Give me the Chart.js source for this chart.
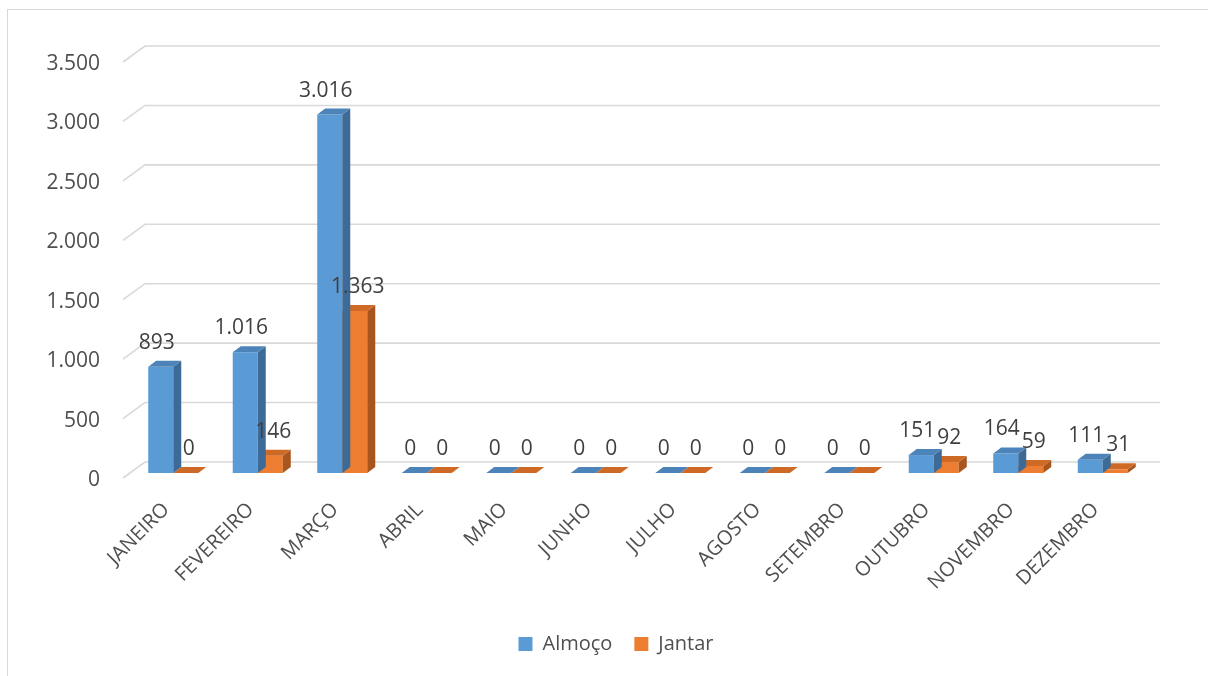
<!DOCTYPE html>
<html><head><meta charset="utf-8">
<script src="https://cdn.jsdelivr.net/npm/chart.js@4"></script>
<style>html,body{margin:0;padding:0;background:#fff;}</style>
</head><body>
<canvas id="c" width="1208" height="676" style="display:block;width:1208px;height:676px"></canvas>
<script>
const categories = ['JANEIRO','FEVEREIRO','MARÇO','ABRIL','MAIO','JUNHO','JULHO','AGOSTO','SETEMBRO','OUTUBRO','NOVEMBRO','DEZEMBRO'];
const almoco = [893, 1016, 3016, 0, 0, 0, 0, 0, 0, 151, 164, 111];
const jantar = [0, 146, 1363, 0, 0, 0, 0, 0, 0, 92, 59, 31];
const seriesNames = ['Almoço', 'Jantar'];
const yMin = 0, yMax = 3500, yStep = 500;

const frontColors = ['#5B9BD5', '#ED7D31'];
const topColors = ['#4C84B9', '#CF6A26'];
const sideColors = ['#3D6A96', '#A9561E'];
const FONT = '"Open Sans", "DejaVu Sans", sans-serif';
const AXIS_COLOR = '#4f4f4f';

function fmt(v) { return String(Math.round(v)).replace(/\B(?=(\d{3})+(?!\d))/g, '.'); }

const frame = {
  id: 'frame',
  beforeDraw(chart) {
    const ctx = chart.ctx;
    ctx.save();
    ctx.fillStyle = '#fff';
    ctx.fillRect(0, 0, chart.width, chart.height);
    ctx.strokeStyle = '#d9d9d9';
    ctx.lineWidth = 1;
    ctx.strokeRect(7.5, 9.5, 1400, 800);
    ctx.restore();
  }
};

const grid3d = {
  id: 'grid3d',
  beforeDatasetsDraw(chart) {
    const ctx = chart.ctx, ys = chart.scales.y, a = chart.chartArea;
    ctx.save();
    ctx.strokeStyle = '#d9d9d9';
    ctx.lineWidth = 1.6;
    for (let v = yMin; v <= yMax; v += yStep) {
      const p = ys.getPixelForValue(v);
      ctx.beginPath();
      ctx.moveTo(a.left - 8, p + 5);
      ctx.lineTo(a.left + 14, p - 11);
      ctx.lineTo(a.right + 15, p - 11);
      ctx.stroke();
    }
    ctx.restore();
  }
};

const bars3d = {
  id: 'bars3d',
  afterDatasetDraw(chart, args) {
    const ctx = chart.ctx, i = args.index, dx = 8, dy = 6;
    ctx.save();
    args.meta.data.forEach(bar => {
      const {x, y, base, width} = bar.getProps(['x', 'y', 'base', 'width'], true);
      const l = x - width / 2, r = x + width / 2;
      ctx.fillStyle = sideColors[i];
      ctx.beginPath();
      ctx.moveTo(r, y); ctx.lineTo(r + dx, y - dy); ctx.lineTo(r + dx, base - dy); ctx.lineTo(r, base);
      ctx.closePath(); ctx.fill();
      ctx.fillStyle = topColors[i];
      ctx.beginPath();
      ctx.moveTo(l, y); ctx.lineTo(l + dx, y - dy); ctx.lineTo(r + dx, y - dy); ctx.lineTo(r, y);
      ctx.closePath(); ctx.fill();
    });
    ctx.restore();
  },
  afterDatasetsDraw(chart) {
    const ctx = chart.ctx;
    ctx.save();
    ctx.font = '21px ' + FONT;
    ctx.fillStyle = '#404040';
    ctx.textAlign = 'center';
    ctx.textBaseline = 'middle';
    chart.data.datasets.forEach((ds, i) => {
      const meta = chart.getDatasetMeta(i);
      meta.data.forEach((bar, j) => {
        const off = i === 0 ? -4 : 3;
        ctx.fillText(fmt(ds.data[j]), bar.x + off, bar.y - 24);
      });
    });
    ctx.restore();
  }
};

new Chart(document.getElementById('c'), {
  type: 'bar',
  data: {
    labels: categories,
    datasets: [
      { label: seriesNames[0], data: almoco, backgroundColor: frontColors[0], borderWidth: 0 },
      { label: seriesNames[1], data: jantar, backgroundColor: frontColors[1], borderWidth: 0 }
    ]
  },
  options: {
    responsive: false,
    animation: false,
    devicePixelRatio: 1,
    categoryPercentage: 0.592,
    barPercentage: 1,
    layout: { padding: { top: 57, left: 24, right: 0, bottom: 12 } },
    plugins: {
      tooltip: { enabled: false },
      legend: {
        position: 'bottom',
        labels: {
          boxWidth: 14, boxHeight: 14, padding: 22,
          color: AXIS_COLOR,
          font: { family: FONT, size: 20 }
        }
      }
    },
    scales: {
      x: {
        grid: { display: false }, border: { display: false },
        ticks: { autoSkip: false, maxRotation: 45, minRotation: 45, color: AXIS_COLOR, font: { family: FONT, size: 20 }, padding: 17, labelOffset: -7 },
        afterFit(s) { s.height = 139; }
      },
      y: {
        min: yMin, max: yMax,
        grid: { display: false }, border: { display: false },
        ticks: { stepSize: yStep, color: AXIS_COLOR, font: { family: FONT, size: 21 }, padding: 23, labelOffset: 7, callback: v => fmt(v) },
        afterFit(s) { s.width = 107; }
      },
      yRight: {
        position: 'right', display: true,
        min: yMin, max: yMax,
        grid: { display: false }, border: { display: false },
        ticks: { display: false },
        afterFit(s) { s.width = 63; }
      }
    }
  },
  plugins: [frame, grid3d, bars3d]
});
</script>
</body></html>
